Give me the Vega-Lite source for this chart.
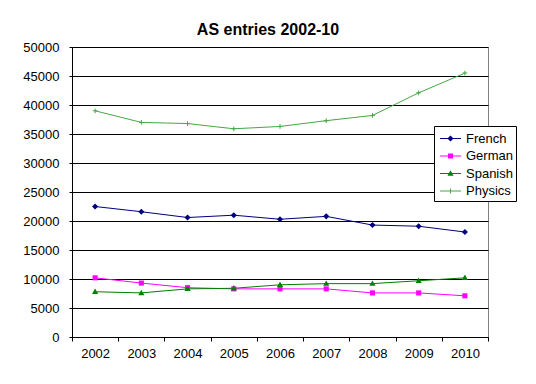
{
  "$schema": "https://vega.github.io/schema/vega-lite/v6.json",
  "autosize": "none",
  "width": 416,
  "height": 290,
  "padding": {"left": 72, "top": 47, "right": 48, "bottom": 47},
  "background": "white",
  "title": {
    "text": "AS entries 2002-10",
    "font": "Liberation Sans",
    "fontSize": 16,
    "fontWeight": "bold",
    "color": "black",
    "anchor": "middle",
    "offset": 3,
    "dx": -12
  },
  "config": {
    "view": {"stroke": "#808080", "strokeWidth": 1},
    "axis": {
      "labelFont": "Liberation Sans",
      "labelFontSize": 13,
      "labelColor": "black",
      "domainColor": "black",
      "tickColor": "black",
      "title": null
    }
  },
  "data": {
    "values": [
      {"year": "2002", "subject": "French", "value": 22500},
      {"year": "2003", "subject": "French", "value": 21600},
      {"year": "2004", "subject": "French", "value": 20600},
      {"year": "2005", "subject": "French", "value": 21000},
      {"year": "2006", "subject": "French", "value": 20300},
      {"year": "2007", "subject": "French", "value": 20800},
      {"year": "2008", "subject": "French", "value": 19300},
      {"year": "2009", "subject": "French", "value": 19100},
      {"year": "2010", "subject": "French", "value": 18100},
      {"year": "2002", "subject": "German", "value": 10200},
      {"year": "2003", "subject": "German", "value": 9300},
      {"year": "2004", "subject": "German", "value": 8500},
      {"year": "2005", "subject": "German", "value": 8300},
      {"year": "2006", "subject": "German", "value": 8300},
      {"year": "2007", "subject": "German", "value": 8300},
      {"year": "2008", "subject": "German", "value": 7600},
      {"year": "2009", "subject": "German", "value": 7600},
      {"year": "2010", "subject": "German", "value": 7100},
      {"year": "2002", "subject": "Spanish", "value": 7800},
      {"year": "2003", "subject": "Spanish", "value": 7600},
      {"year": "2004", "subject": "Spanish", "value": 8300},
      {"year": "2005", "subject": "Spanish", "value": 8400},
      {"year": "2006", "subject": "Spanish", "value": 9000},
      {"year": "2007", "subject": "Spanish", "value": 9200},
      {"year": "2008", "subject": "Spanish", "value": 9200},
      {"year": "2009", "subject": "Spanish", "value": 9700},
      {"year": "2010", "subject": "Spanish", "value": 10200},
      {"year": "2002", "subject": "Physics", "value": 39000},
      {"year": "2003", "subject": "Physics", "value": 37000},
      {"year": "2004", "subject": "Physics", "value": 36800},
      {"year": "2005", "subject": "Physics", "value": 35900},
      {"year": "2006", "subject": "Physics", "value": 36300},
      {"year": "2007", "subject": "Physics", "value": 37300},
      {"year": "2008", "subject": "Physics", "value": 38200},
      {"year": "2009", "subject": "Physics", "value": 42100},
      {"year": "2010", "subject": "Physics", "value": 45500}
    ]
  },
  "encoding": {
    "x": {
      "field": "year",
      "type": "ordinal",
      "scale": {"paddingInner": 0, "paddingOuter": 0},
      "axis": {"labelAngle": 0, "tickBand": "extent", "tickSize": 4, "labelPadding": 6, "grid": false}
    },
    "y": {
      "field": "value",
      "type": "quantitative",
      "scale": {"domain": [0, 50000], "nice": false},
      "axis": {"values": [0, 5000, 10000, 15000, 20000, 25000, 30000, 35000, 40000, 45000, 50000], "format": "d", "tickSize": 3, "labelPadding": 10, "grid": true, "gridColor": "black", "gridOpacity": 1, "gridWidth": 1}
    }
  },
  "layer": [
    {
      "mark": {"type": "line", "strokeWidth": 1},
      "encoding": {
        "color": {
          "field": "subject",
          "type": "nominal",
          "scale": {"domain": ["French", "German", "Spanish", "Physics"], "range": ["#000080", "#FF00FF", "#008000", "#44A844"]},
          "legend": null
        }
      }
    },
    {
      "mark": {"type": "point", "filled": true, "opacity": 1, "size": 289},
      "encoding": {
        "color": {
          "field": "subject",
          "type": "nominal",
          "scale": {"domain": ["French", "German", "Spanish", "Physics"], "range": ["#000080", "#FF00FF", "#008000", "#44A844"]},
          "legend": null
        },
        "shape": {
          "field": "subject",
          "type": "nominal",
          "scale": {
            "domain": ["French", "German", "Spanish", "Physics"],
            "range": [
              "M0,-0.36L0.36,0L0,0.36L-0.36,0Z",
              "M-0.3,-0.3H0.3V0.3H-0.3Z",
              "M0,-0.38L0.36,0.26H-0.36Z",
              "M-0.28,-0.06H0.28V0.06H-0.28Z M-0.06,-0.28H0.06V0.28H-0.06Z"
            ]
          },
          "legend": null
        }
      }
    },
    {
      "transform": [{"filter": "false"}],
      "mark": {"type": "point", "filled": true, "opacity": 1, "size": 289},
      "encoding": {
        "color": {
          "field": "subject",
          "type": "nominal",
          "scale": {"domain": ["French", "German", "Spanish", "Physics"], "range": ["#000080", "#FF00FF", "#008000", "#44A844"]},
          "legend": {
            "title": null, "orient": "none", "legendX": 362, "legendY": 79,
            "padding": 3, "strokeColor": "black", "fillColor": "white",
            "labelFont": "Liberation Sans", "labelFontSize": 13, "labelColor": "black",
            "symbolSize": 289, "rowPadding": 0.5, "labelOffset": 6, "symbolOffset": 4, "cornerRadius": 0
          }
        },
        "shape": {
          "field": "subject",
          "type": "nominal",
          "scale": {
            "domain": ["French", "German", "Spanish", "Physics"],
            "range": [
              "M-1.24,-0.06H1.24V0.06H-1.24Z M0,-0.36L0.36,0L0,0.36L-0.36,0Z",
              "M-1.24,-0.06H1.24V0.06H-1.24Z M-0.3,-0.3H0.3V0.3H-0.3Z",
              "M-1.24,-0.06H1.24V0.06H-1.24Z M0,-0.38L0.36,0.26H-0.36Z",
              "M-1.24,-0.06H1.24V0.06H-1.24Z M-0.06,-0.28H0.06V0.28H-0.06Z"
            ]
          },
          "legend": {
            "title": null, "orient": "none", "legendX": 362, "legendY": 79,
            "padding": 3, "strokeColor": "black", "fillColor": "white",
            "labelFont": "Liberation Sans", "labelFontSize": 13, "labelColor": "black",
            "symbolSize": 289, "rowPadding": 0.5, "labelOffset": 6, "symbolOffset": 4, "cornerRadius": 0
          }
        }
      }
    }
  ],
  "resolve": {"scale": {"color": "independent", "shape": "independent"}}
}
